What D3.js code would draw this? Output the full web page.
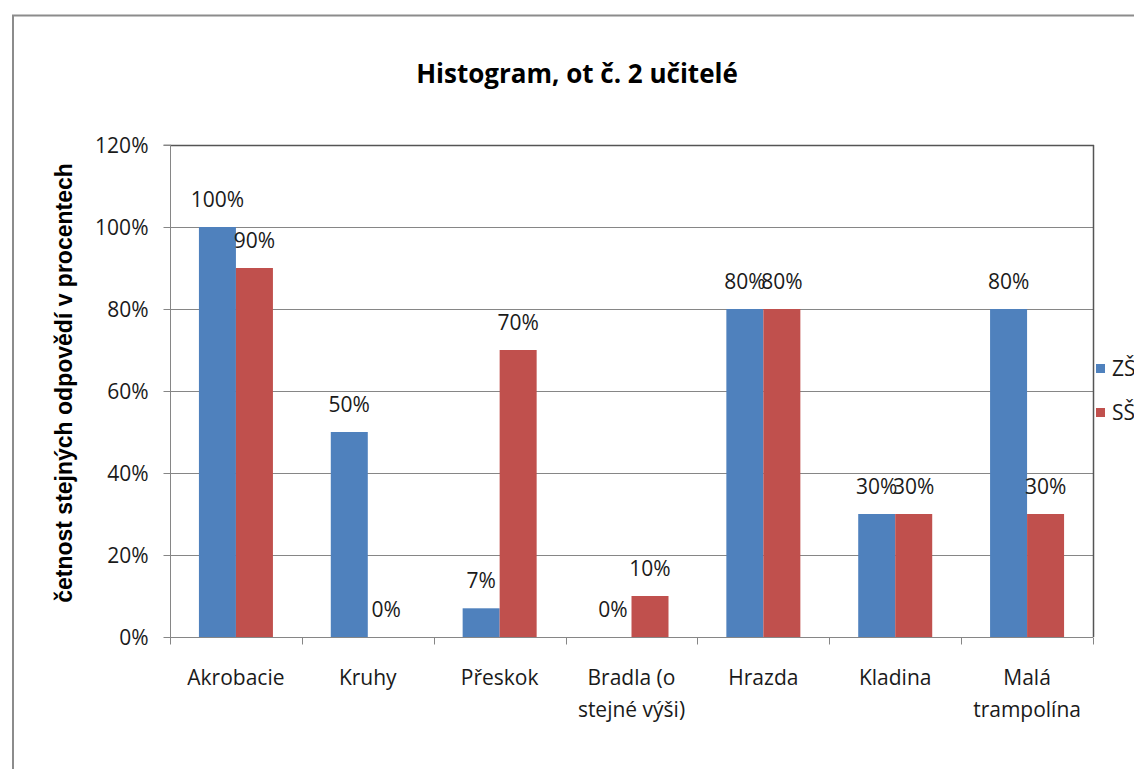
<!DOCTYPE html>
<html><head><meta charset="utf-8">
<script src="https://cdn.jsdelivr.net/npm/d3@7"></script>
<style>body{margin:0;background:#fff;}svg{display:block;}</style>
</head><body>
<svg id="c" width="1134" height="769"></svg>
<script>
const categories = [["Akrobacie"],["Kruhy"],["Přeskok"],["Bradla (o","stejné výši)"],["Hrazda"],["Kladina"],["Malá","trampolína"]];
const seriesNames = ["ZŠ","SŠ"];
const zsValues = [100,50,7,0,80,30,80];
const ssValues = [90,0,70,10,80,30,30];
const yTicks = [0,20,40,60,80,100,120];
const colors = ["#4f81bd","#c0504d"];

const svg = d3.select("#c");
const font = "'Open Sans', 'Noto Sans', sans-serif";
const fs = 21;
// outer border
svg.append("rect").attr("x",13).attr("y",15.5).attr("width",1140).attr("height",780)
  .attr("fill","none").attr("stroke","#8c8c8c").attr("stroke-width",2);

const L=170, R=1093, T=145, B=637;
const x = d3.scaleBand().domain(d3.range(categories.length)).range([L,R]);
const y = d3.scaleLinear().domain([0,120]).range([B,T]);
const barW = 37;

// gridlines
svg.append("g").selectAll("line").data(yTicks.filter(t=>t>0)).join("line")
  .attr("x1",L).attr("x2",R).attr("y1",d=>Math.round(y(d))+0.5).attr("y2",d=>Math.round(y(d))+0.5)
  .attr("stroke","#868686").attr("stroke-width",1);
svg.append("line").attr("x1",L).attr("x2",R+1).attr("y1",T+0.5).attr("y2",T+0.5).attr("stroke","#555").attr("stroke-width",1.5);
svg.append("line").attr("x1",R+0.5).attr("x2",R+0.5).attr("y1",T).attr("y2",B).attr("stroke","#555").attr("stroke-width",1.5);

const series = [zsValues, ssValues];
series.forEach((vals,si)=>{
  svg.append("g").selectAll("rect").data(vals).join("rect")
    .attr("x",(d,i)=>x(i)+x.bandwidth()/2 - barW + si*barW)
    .attr("width",barW)
    .attr("y",d=>y(d))
    .attr("height",d=>B-y(d))
    .attr("fill",colors[si]);
  svg.append("g").selectAll("text").data(vals).join("text")
    .attr("x",(d,i)=>x(i)+x.bandwidth()/2 - barW/2 + si*barW)
    .attr("y",d=>y(d)-20)
    .attr("text-anchor","middle")
    .attr("font-family",font).attr("font-size",fs).attr("fill","#1a1a1a")
    .text(d=>d+"%");
});

// axes
const yAxis = d3.axisLeft(y).tickValues(yTicks).tickSize(7).tickFormat(d=>d+"%");
const gy = svg.append("g").attr("transform",`translate(${L+0.5},0)`).call(yAxis);
gy.select(".domain").attr("stroke","#868686").attr("d",`M-7,${T}H0V${B}`);
gy.selectAll(".tick line").attr("stroke","#868686");
gy.selectAll(".tick text").attr("font-family",font).attr("font-size",fs).attr("fill","#1a1a1a").attr("x",-22).attr("dy","0.35em");

const gx = svg.append("g").attr("transform",`translate(0,${B+0.5})`);
gx.append("line").attr("x1",L).attr("x2",R).attr("stroke","#868686");
const bounds = d3.range(categories.length+1).map(i=> i<categories.length ? x(i) : R);
gx.selectAll("line.tk").data(bounds).join("line").attr("class","tk")
  .attr("x1",d=>Math.round(d)+0.5).attr("x2",d=>Math.round(d)+0.5).attr("y1",0).attr("y2",7).attr("stroke","#868686");
categories.forEach((lines,i)=>{
  const t = gx.append("text").attr("x",x(i)+x.bandwidth()/2).attr("y",47)
    .attr("text-anchor","middle").attr("font-family",font).attr("font-size",fs).attr("fill","#1a1a1a");
  lines.forEach((ln,k)=> t.append("tspan").attr("x",x(i)+x.bandwidth()/2).attr("dy",k===0?0:32).text(ln));
});

// title
svg.append("text").attr("x",577).attr("y",83).attr("text-anchor","middle")
  .attr("font-family",font).attr("font-weight","bold").attr("font-size",26).attr("fill","#000")
  .text("Histogram, ot č. 2 učitelé");
// y title
svg.append("text").attr("transform","translate(72,383) rotate(-90)").attr("text-anchor","middle")
  .attr("font-family","'Liberation Sans', Arial, sans-serif").attr("font-weight","bold").attr("font-size",23).attr("fill","#000")
  .text("četnost stejných odpovědí v procentech");

// legend
seriesNames.forEach((n,i)=>{
  svg.append("rect").attr("x",1096).attr("y",364+i*44).attr("width",9).attr("height",9).attr("fill",colors[i]);
  svg.append("text").attr("x",1112).attr("y",369+i*44).attr("dy","0.35em")
    .attr("font-family",font).attr("font-size",fs).attr("fill","#1a1a1a").text(n);
});
</script>
</body></html>
